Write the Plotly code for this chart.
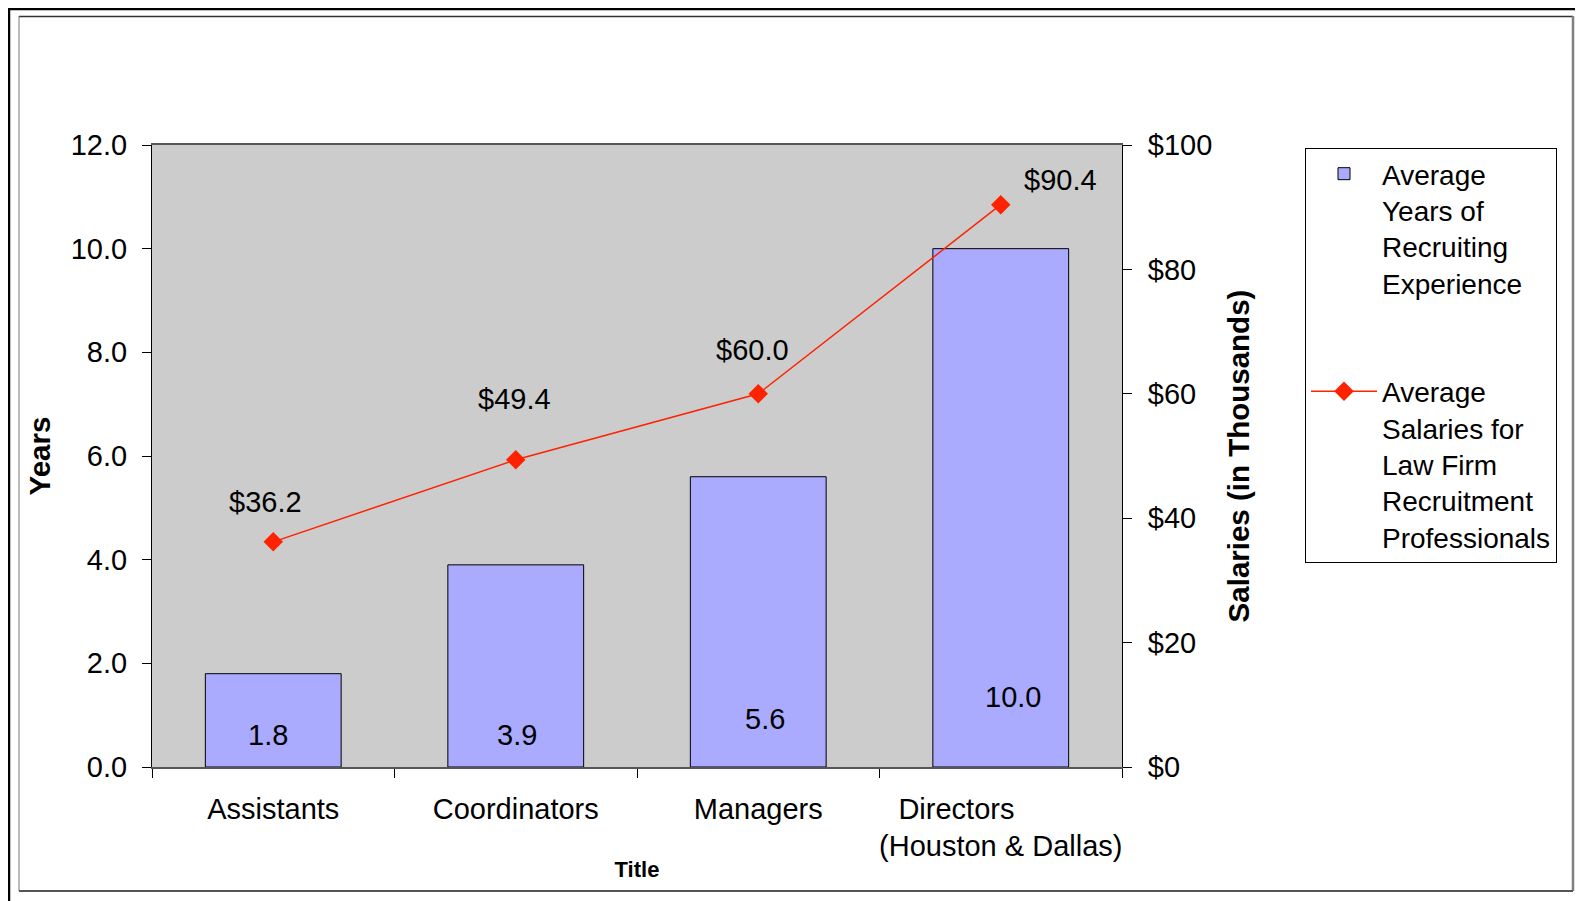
import plotly.graph_objects as go

# ---------------- data ----------------
categories = ["Assistants", "Coordinators", "Managers", "Directors (Houston & Dallas)"]
tick_labels = ["Assistants", "Coordinators", "Managers",
               "Directors" + "\u00a0" * 11 + "<br>(Houston & Dallas)"]
years = [1.8, 3.9, 5.6, 10.0]
salaries = [36.2, 49.4, 60.0, 90.4]
years_labels = ["1.8", "3.9", "5.6", "10.0"]
salary_labels = ["$36.2", "$49.4", "$60.0", "$90.4"]
bar_name = "Average<br>Years of<br>Recruiting<br>Experience"
line_name = "Average<br>Salaries for<br>Law Firm<br>Recruitment<br>Professionals"

# ---------------- geometry ----------------
OFF = 8                       # page body margin
W, H = 1583 - OFF, 901 - OFF  # figure size
L, R, T, B = 152, 1122, 145, 767  # plot area in screen px
PW, PH = R - L, B - T


def px(x):
    return (x - L) / PW


def py(y):
    return (B - y) / PH


FONT = "Arial, Liberation Sans, sans-serif"
FS = 29

fig = go.Figure()
fig.add_trace(go.Bar(
    x=categories, y=years, name=bar_name, width=0.56,
    marker=dict(color="#AAAAFF", line=dict(color="#000000", width=1)),
    legendgroup="a", hoverinfo="y",
))
fig.add_trace(go.Scatter(
    x=categories, y=salaries, name=line_name, yaxis="y2",
    mode="lines+markers",
    line=dict(color="#FF2200", width=1.5),
    marker=dict(symbol="diamond", size=15, color="#FF2200"),
    legendgroup="b",
))

# bar value labels
bar_dx = [-5, 1, 7, 12]
bar_dy = [32, 32, 48, 70]
for c, lab, dx, dy in zip(categories, years_labels, bar_dx, bar_dy):
    fig.add_annotation(x=c, y=0, xref="x", yref="y", text=lab, showarrow=False,
                       xshift=dx, yshift=dy, yanchor="middle",
                       font=dict(family=FONT, size=FS, color="#000000"))

# salary labels
sal_dx = [-8, -1, -6, 60]
sal_dy = [40, 61, 44, 25]
for c, v, lab, dx, dy in zip(categories, salaries, salary_labels, sal_dx, sal_dy):
    fig.add_annotation(x=c, y=v, xref="x", yref="y2", text=lab, showarrow=False,
                       xshift=dx, yshift=dy, yanchor="middle",
                       font=dict(family=FONT, size=FS, color="#000000"))

# frames
shapes = [
    dict(type="rect", xref="paper", yref="paper", x0=px(9), x1=px(1700), y0=py(9), y1=py(1000),
         line=dict(color="#000000", width=2.5), layer="below"),
    dict(type="line", xref="paper", yref="paper", x0=px(19), x1=px(1573), y0=py(16.5), y1=py(16.5),
         line=dict(color="#333333", width=1.5)),
    dict(type="line", xref="paper", yref="paper", x0=px(19), x1=px(19), y0=py(16), y1=py(891),
         line=dict(color="#777777", width=1)),
    dict(type="line", xref="paper", yref="paper", x0=px(1573), x1=px(1573), y0=py(16), y1=py(891),
         line=dict(color="#808080", width=2.5)),
    dict(type="line", xref="paper", yref="paper", x0=px(19), x1=px(1573), y0=py(891), y1=py(891),
         line=dict(color="#555555", width=2)),
]

fig.update_layout(
    width=W, height=H, autosize=False,
    margin=dict(l=L - OFF, r=W - (R - OFF), t=T - OFF, b=H - (B - OFF), pad=0),
    paper_bgcolor="#FFFFFF", plot_bgcolor="#CCCCCC",
    font=dict(family=FONT, size=FS, color="#000000"),
    showlegend=True,
    shapes=shapes,
    xaxis=dict(
        type="category", tickmode="array", tickvals=categories, ticktext=tick_labels,
        tickson="boundaries", ticks="outside", ticklen=9, tickcolor="#000000",
        tickangle=0, automargin=False,
        showline=True, linecolor="#555555", linewidth=1.5, mirror=True,
        showgrid=False, zeroline=False, ticklabelstandoff=15,
        tickfont=dict(family=FONT, size=FS),
        title=dict(text="<b>Title</b>", font=dict(family=FONT, size=22), standoff=0),
    ),
    yaxis=dict(
        range=[0, 12], dtick=2, tickformat=".1f", ticks="outside", ticklen=9,
        tickcolor="#000000", showline=True, linecolor="#000000", linewidth=1,
        showgrid=False, zeroline=False, ticklabelstandoff=9, automargin=False,
        tickfont=dict(family=FONT, size=FS),
        title=dict(text="<b>Years</b>", font=dict(family=FONT, size=29.5), standoff=11),
    ),
    yaxis2=dict(
        range=[0, 100], dtick=20, tickprefix="$", overlaying="y", side="right",
        ticks="outside", ticklen=9, tickcolor="#000000", automargin=False,
        showline=True, linecolor="#000000", linewidth=1,
        showgrid=False, zeroline=False, ticklabelstandoff=10,
        tickfont=dict(family=FONT, size=FS),
        title=dict(text="<b>Salaries (in Thousands)</b>", font=dict(family=FONT, size=29.5),
                   standoff=17),
    ),
    legend=dict(
        x=px(1305), y=py(148), xanchor="left", yanchor="top",
        bgcolor="#FFFFFF", bordercolor="#000000", borderwidth=1,
        font=dict(family=FONT, size=28), traceorder="grouped", tracegroupgap=69,
        itemwidth=66, valign="top",
    ),
)

fig.write_html("out.html")
